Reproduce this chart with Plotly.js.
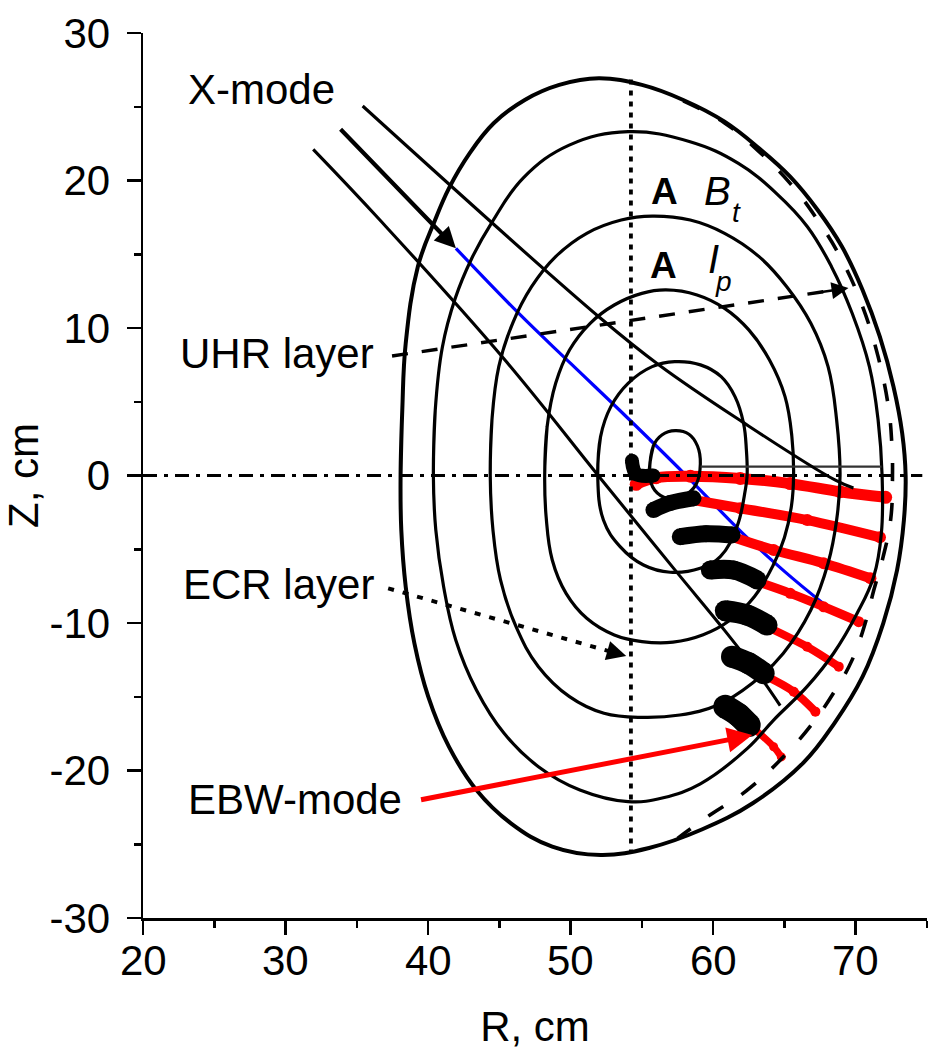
<!DOCTYPE html>
<html><head><meta charset="utf-8">
<script src="https://cdn.plot.ly/plotly-3.0.1.min.js"></script>
<style>html,body{margin:0;padding:0;background:#fff}#chart{width:942px;height:1053px}</style>
</head><body><div id="chart"></div>
<script>
// ---- axis ticks ----
const xTickVals = [20,30,40,50,60,70];
const xTickText = ['20','30','40','50','60','70'];
const xMinorVals = [25,35,45,55,65,75];
const yTickVals = [-30,-20,-10,0,10,20,30];
const yTickText = ['-30','-20','-10','0','10','20','30'];
const yMinorVals = [-25,-15,-5,5,15,25];

// ---- flux surfaces (R, Z in cm) ----
const c0R = [38.07,38.19,38.43,39.28,40.49,41.46,42.91,44.6,46.78,49.2,51.98,55.0,57.9,60.8,63.22,65.4,67.33,69.03,70.48,71.69,72.65,73.26,73.5,73.38,72.9,71.93,70.48,68.5,66.3,62.8,59.2,55.5,52.1,48.71,45.81,43.39,41.46,40.01,39.04,38.43,38.12,38.07,38.19];
const c0Z = [0,4.44,8.96,14.16,17.32,19.47,21.84,23.88,25.46,26.48,26.93,26.48,25.46,23.99,22.18,20.26,18.0,15.52,12.58,9.41,6.02,2.86,0,-3.02,-6.41,-10.02,-13.64,-16.8,-19.5,-22.2,-24.0,-25.25,-25.73,-25.16,-23.58,-21.32,-18.38,-14.99,-11.38,-7.54,-3.69,0,4.44];
const c1R = [40.37,40.5,41.0,41.9,43.05,44.5,46.7,49.9,54.03,58.38,61.77,64.43,66.61,68.3,69.75,70.96,71.57,71.85,71.8,71.26,70.1,68.45,66.6,64.24,62.4,59.1,56.5,54.03,50.65,47.74,45.33,43.39,41.94,41.09,40.54,40.37,40.5];
const c1Z = [0,4.4,8.7,12.0,14.7,17.2,20.2,22.4,23.31,22.63,21.16,19.13,16.87,14.16,11.0,7.38,3.76,0,-3.9,-6.86,-9.34,-12.05,-14.3,-16.58,-18.5,-20.9,-21.85,-22.11,-21.32,-19.74,-17.48,-14.54,-11.15,-7.54,-3.69,0,4.4];
const c2R = [44.36,44.48,44.96,45.93,47.26,48.95,51.13,53.55,55.72,58.39,60.8,63.22,65.16,66.85,68.06,68.66,68.9,68.66,68.06,66.85,64.91,62.74,60.32,57.66,55.0,52.34,49.92,47.74,46.17,45.08,44.55,44.36,44.48];
const c2Z = [0,3.76,7.38,10.32,12.8,14.84,16.42,17.32,17.59,17.32,16.42,14.84,12.8,10.32,7.38,3.76,0,-3.02,-5.95,-9.12,-12.06,-14.09,-15.56,-16.24,-16.4,-16.12,-14.99,-12.96,-10.25,-7.08,-3.69,0,3.76];
const c3R = [48.18,48.35,48.95,49.92,51.37,53.06,55.0,56.69,58.87,60.8,62.5,63.95,65.04,65.52,65.64,65.5,65.0,64.2,62.9,61.2,59.3,57.18,55.0,53.06,51.13,49.68,48.71,48.28,48.18,48.35];
const c3Z = [0,3.31,6.25,8.51,10.32,11.56,12.35,12.58,12.24,11.33,9.87,7.83,5.35,2.64,0,-2.0,-4.2,-6.1,-8.2,-9.8,-10.8,-11.3,-11.26,-10.81,-9.68,-7.99,-5.73,-2.79,0,3.31];
const c4R = [51.9,52.1,52.82,54.03,55.72,57.3,59.11,60.56,61.53,62.13,62.33,62.38,62.25,61.67,60.5,59.09,56.98,55.11,53.47,52.3,51.9,52.1];
const c4Z = [0,2.64,4.67,6.25,7.38,7.72,7.5,6.7,5.35,3.54,1.73,0,-1.0,-3.47,-5.5,-6.29,-6.56,-6.07,-4.82,-3.02,0,2.64];
const c5R = [55.53,55.8,56.4,57.34,58.3,58.9,59.1,58.8,57.9,56.8,55.9,55.53,55.8];
const c5Z = [0.1,2.0,2.75,3.04,2.8,2.0,0.8,-0.6,-1.4,-1.55,-1.0,0.1,2.0];
// dashed outer (last closed) surface
const sepR = [57.9,60.8,63.22,65.4,67.33,69.03,70.48,71.57,72.29,72.53,72.58,72.45,71.9,71.26,70.7,69.75,68.6,67.05,65.0,62.3,59.8,57.5];
const sepZ = [25.4,23.9,21.96,19.81,17.32,14.61,11.45,8.06,4.67,2.18,0,-3.0,-5.6,-7.8,-9.9,-12.5,-14.5,-16.7,-19.0,-21.4,-23.0,-24.6];

// ---- X-mode beams ----
const beamUpR = [35.41,52.1,56.2,62.02,68.54,69.84];
const beamUpZ = [25.05,10.66,7.49,3.65,-0.3,-0.85];
const beamLowR = [31.94,36.62,45.2,52.1,57.4,60.8,63.2,64.7];
const beamLowZ = [22.11,17.32,8.05,-0.2,-6.5,-10.5,-13.5,-15.6];
const beamMidR = [33.76,41.95];
const beamMidZ = [23.58,15.4];
const blueR = [41.95,46.4,50.0,54.0,58.0,62.0,65.0,67.7];
const blueZ = [15.4,10.95,7.6,3.9,0.1,-3.85,-6.5,-8.66];
const hLineR = [59.11,71.81];
const hLineZ = [0.6,0.6];

// ---- EBW rays (red) and conversion regions (black) ----
const rayR = [
  [54.6,56.0,58.4,61.9,65.4,68.9,72.1],
  [58.6,61.9,66.6,71.7],
  [61.32,64.24,67.75,71.03],
  [63.08,65.41,67.75,70.21],
  [64.01,66.59,68.81],
  [63.78,65.65,67.17],
  [62.84,64.24,64.78]
];
const rayZ = [
  [-0.6,-0.15,-0.05,-0.2,-0.55,-1.1,-1.48],
  [-1.66,-2.22,-3.02,-4.19],
  [-4.15,-5.05,-5.95,-6.97],
  [-7.2,-7.99,-8.9,-9.91],
  [-10.36,-11.61,-12.96],
  [-13.64,-14.66,-16.01],
  [-17.14,-18.39,-19.08]
];
const blobR = [
  [54.3,54.6,55.8],
  [55.81,57.0,58.62],
  [57.69,59.5,61.32],
  [59.8,61.43,63.08],
  [60.85,62.37,63.78],
  [61.32,62.49,63.54],
  [60.85,61.78,62.49]
];
const blobZ = [
  [1.0,0.1,0.0],
  [-2.34,-1.86,-1.55],
  [-4.15,-3.95,-4.03],
  [-6.41,-6.41,-7.08],
  [-9.17,-9.46,-10.14],
  [-12.28,-12.73,-13.41],
  [-15.67,-16.24,-16.92]
];

// ---- layers / reference lines ----
const midplaneR = [20,74.67];
const midplaneZ = [0,0];
const ecrVertR = [54.23,54.23];
const ecrVertZ = [26.85,-25.5];
const uhrR = [37.47,68.5];
const uhrZ = [8.1,12.57];
const ecrArrR = [37.2,52.8];
const ecrArrZ = [-7.65,-11.94];

// ---- styling helpers ----
function ln(R, Z, color, width, dash, shape) {
  return {type:'scatter', mode:'lines', x:R, y:Z, hoverinfo:'skip', showlegend:false,
    line:{color:color, width:width, dash:dash||'solid', shape:shape||'linear', smoothing:1.15}};
}
function fat(R, Z, color, width, msize) {
  return {type:'scatter', mode:'lines+markers', x:R, y:Z, hoverinfo:'skip', showlegend:false,
    line:{color:color, width:width, shape:'spline', smoothing:1},
    marker:{color:color, size:msize||width, line:{width:0}}};
}

const rayW = [11,10,10,9,8,8,7];
const blobW = [14,16,17,19,21,22,24];

const traces = [];
traces.push(ln(blueR, blueZ, '#0000ff', 3.2, 'solid', 'spline'));
for (let i = 0; i < rayR.length; i++) traces.push(fat(rayR[i], rayZ[i], '#ff0000', rayW[i], rayW[i] + 2));
traces.push(ln(midplaneR, midplaneZ, '#000', 3, '14px,7px,4px,7px'));
traces.push(ln(c0R, c0Z, '#000', 4, 'solid', 'spline'));
traces.push(ln(c1R, c1Z, '#000', 3.2, 'solid', 'spline'));
traces.push(ln(c2R, c2Z, '#000', 3.2, 'solid', 'spline'));
traces.push(ln(c3R, c3Z, '#000', 3.2, 'solid', 'spline'));
traces.push(ln(c4R, c4Z, '#000', 3.2, 'solid', 'spline'));
traces.push(ln(c5R, c5Z, '#000', 3.2, 'solid', 'spline'));
traces.push(ln(sepR, sepZ, '#000', 3.6, '18px,22px', 'spline'));
traces.push(ln(hLineR, hLineZ, '#333', 2.4));
traces.push(ln(beamUpR, beamUpZ, '#000', 3.1, 'solid', 'spline'));
traces.push(ln(beamLowR, beamLowZ, '#000', 3.1, 'solid', 'spline'));
traces.push(ln(ecrVertR, ecrVertZ, '#000', 3.8, '5px,6px'));
traces.push(ln(uhrR, uhrZ, '#000', 3.4, '16px,14px'));
traces.push(ln(ecrArrR, ecrArrZ, '#000', 4, '6px,9px'));
for (let i = 0; i < blobR.length; i++) traces.push(fat(blobR[i], blobZ[i], '#000', blobW[i]));

const F = 'Liberation Sans, Arial, sans-serif';
function txt(x, y, t, size, extra) {
  return Object.assign({x:x, y:y, xref:'x', yref:'y', text:t, showarrow:false,
    xanchor:'center', yanchor:'middle', font:{family:F, size:size, color:'#000'}}, extra||{});
}
function arrow(x, y, ax, ay, color, width, size) {
  return {x:x, y:y, ax:ax, ay:ay, xref:'x', yref:'y', axref:'x', ayref:'y', text:'',
    showarrow:true, arrowhead:2, arrowsize:size, arrowwidth:width, arrowcolor:color, standoff:0, startstandoff:0};
}

const annotations = [
  txt(28.29, 26.14, 'X-mode', 42),
  txt(29.42, 8.24, 'UHR layer', 42),
  txt(29.48, -7.36, 'ECR layer', 42),
  txt(30.68, -21.97, 'EBW-mode', 42),
  txt(56.61, 19.25, '<b>A</b>', 37),
  txt(60.32, 19.29, '<i>B</i>', 40),
  txt(61.62, 17.84, '<i>t</i>', 28),
  txt(56.53, 14.24, '<b>A</b>', 37),
  txt(60.0, 14.68, '<i>I</i>', 40),
  txt(60.74, 13.16, '<i>p</i>', 28),
  arrow(beamMidR[1], beamMidZ[1], beamMidR[0], beamMidZ[0], '#000', 4.2, 1),
  arrow(69.49, 12.71, 67.5, 12.42, '#000', 2.6, 1.3),
  arrow(53.9, -12.24, 52.4, -11.83, '#000', 3, 1.3),
  arrow(62.74, -17.6, 39.4, -22.0, '#ff0000', 5, 1)
];
// x tick labels placed as text just below the axis ticks
for (let i = 0; i < xTickVals.length; i++) {
  annotations.push({x:xTickVals[i], y:0, xref:'x', yref:'paper', text:xTickText[i], showarrow:false,
    xanchor:'center', yanchor:'middle', yshift:-42, font:{family:F, size:42, color:'#000'}});
}

const axisCommon = {
  ticks:'outside', ticklen:14, tickwidth:2.5, tickcolor:'#000',
  showline:true, linewidth:2.5, linecolor:'#000', showgrid:false, zeroline:false,
  tickfont:{family:F, size:42, color:'#000'}, fixedrange:true
};

const layout = {
  width:942, height:1053,
  margin:{l:143, r:15, t:33, b:135, pad:0},
  paper_bgcolor:'#ffffff', plot_bgcolor:'#ffffff',
  showlegend:false, hovermode:false,
  font:{family:F, size:42, color:'#000'},
  xaxis:Object.assign({}, axisCommon, {
    range:[20,75], tickmode:'array', tickvals:xTickVals, ticktext:xTickText, showticklabels:false,
    minor:{tickmode:'array', tickvals:xMinorVals, ticks:'outside', ticklen:7, tickwidth:2.5, tickcolor:'#000', showgrid:false},
    title:{text:'R, cm', font:{family:F, size:42, color:'#000'}, standoff:78}
  }),
  yaxis:Object.assign({}, axisCommon, {
    range:[-30,30], tickmode:'array', tickvals:yTickVals, ticktext:yTickText, ticklabelstandoff:8,
    minor:{tickmode:'array', tickvals:yMinorVals, ticks:'outside', ticklen:7, tickwidth:2.5, tickcolor:'#000', showgrid:false},
    title:{text:'Z, cm', font:{family:F, size:42, color:'#000'}, standoff:16}
  }),
  annotations:annotations
};

Plotly.newPlot('chart', traces, layout, {staticPlot:true, displayModeBar:false});
</script></body></html>
